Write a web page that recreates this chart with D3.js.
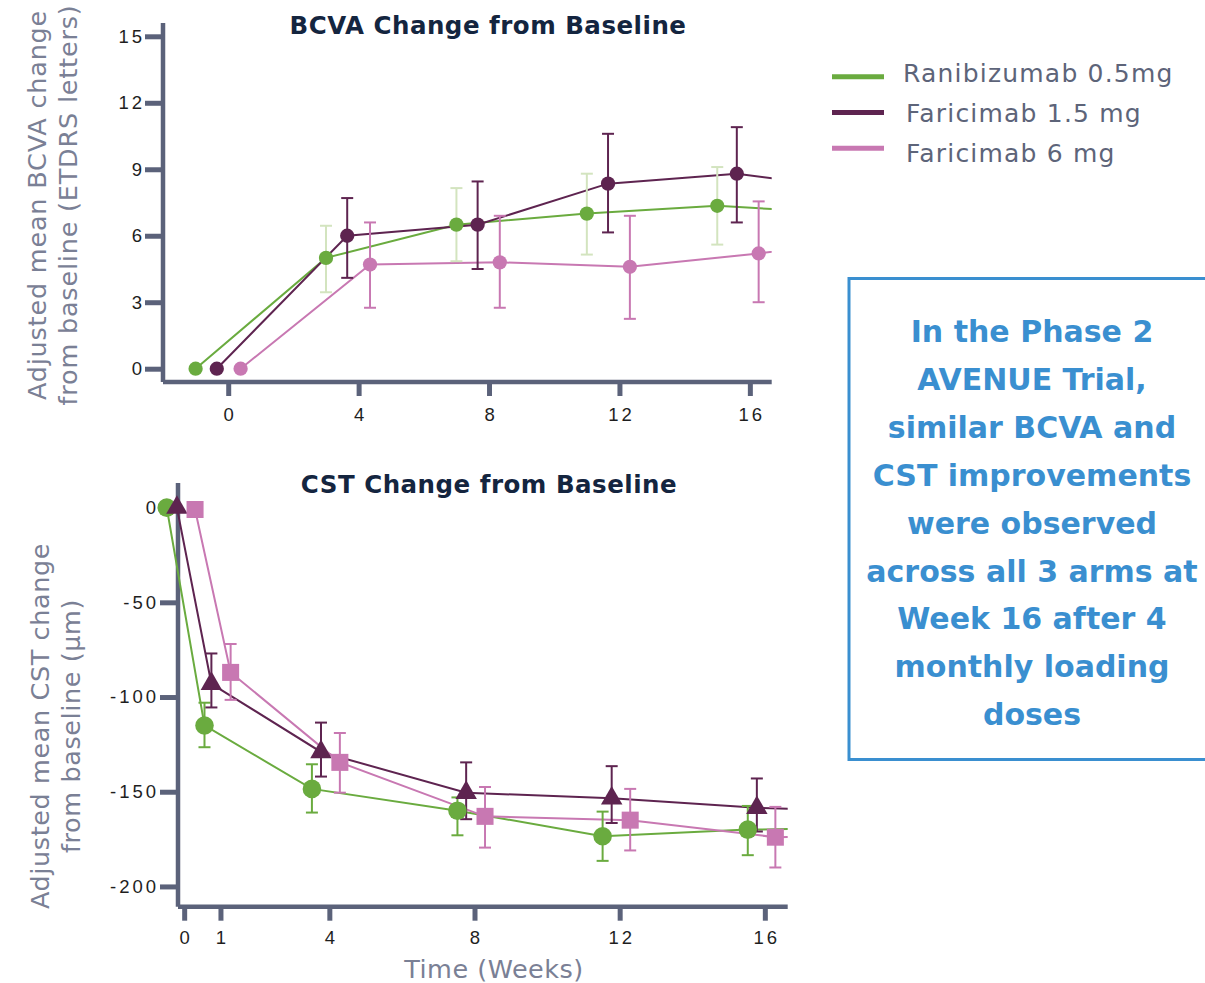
<!DOCTYPE html>
<html><head><meta charset="utf-8">
<script src="https://cdn.jsdelivr.net/npm/d3@7"></script>
<style>
html,body{margin:0;padding:0;background:#fff;}
svg{display:block;font-family:"DejaVu Sans",sans-serif;}
</style></head>
<body>
<svg id="chart" width="1205" height="983"></svg>
<script>
// ---------------- DATA ----------------
const seriesNames = ["Ranibizumab 0.5mg", "Faricimab 1.5 mg", "Faricimab 6 mg"];
const seriesColors = ["#6aab3f", "#5e2450", "#c878b2"];
const errColorsTop = ["#d3e4bf", "#5e2450", "#c878b2"];

// BCVA (top) — plotted week positions (jittered per arm), means, upper & lower error ends
const bcvaWeeksRani = [-1, 3, 7, 11, 15, 19];
const bcvaRani      = [0, 5.0, 6.5, 7.0, 7.35, 7.0];
const bcvaRaniHi    = [null, 6.45, 8.15, 8.8, 9.1, null];
const bcvaRaniLo    = [null, 3.45, 4.85, 5.15, 5.6, null];

const bcvaWeeksF15 = [-0.35, 3.65, 7.65, 11.65, 15.6, 18.7];
const bcvaF15      = [0, 6.0, 6.5, 8.35, 8.8, 8.2];
const bcvaF15Hi    = [null, 7.7, 8.45, 10.6, 10.9, null];
const bcvaF15Lo    = [null, 4.1, 4.5, 6.15, 6.6, null];

const bcvaWeeksF6 = [0.38, 4.35, 8.33, 12.32, 16.27, 19.3];
const bcvaF6      = [0, 4.7, 4.8, 4.6, 5.2, 5.8];
const bcvaF6Hi    = [null, 6.6, 6.9, 6.9, 7.55, null];
const bcvaF6Lo    = [null, 2.75, 2.75, 2.25, 3.0, null];

const bcvaTicksY = [0, 3, 6, 9, 12, 15];
const bcvaTicksX = [0, 4, 8, 12, 16];

// CST (bottom)
const cstWeeksRani = [-0.48, 0.56, 3.52, 7.53, 11.53, 15.53, 19.5];
const cstRani      = [0, -115, -148.5, -160, -173.5, -170, -169];
const cstRaniHi    = [null, -103, -135.5, -153, -160.5, -157.5, null];
const cstRaniLo    = [null, -126.5, -161, -173, -186.5, -183.5, null];

const cstWeeksF15 = [-0.2, 0.75, 3.77, 7.77, 11.78, 15.78, 19.8];
const cstF15      = [0, -93, -129, -150.5, -153.5, -158.5, -160.5];
const cstF15Hi    = [null, -77, -113.5, -134.5, -136.5, -143, null];
const cstF15Lo    = [null, -105.5, -142, -164.5, -166.5, -171, null];

const cstWeeksF6 = [0.3, 1.28, 4.29, 8.29, 12.29, 16.29, 20.3];
const cstF6      = [-1, -87, -134.5, -163, -165, -174, -173];
const cstF6Hi    = [null, -72, -119, -147.5, -148.5, -158, null];
const cstF6Lo    = [null, -101.5, -150.5, -179.5, -181, -190, null];

const cstTicksY = [0, -50, -100, -150, -200];
const cstTicksX = [0, 1, 4, 8, 12, 16];

const boxLines = ["In the Phase 2", "AVENUE Trial,", "similar BCVA and", "CST improvements",
  "were observed", "across all 3 arms at", "Week 16 after 4", "monthly loading", "doses"];

// ---------------- HELPERS ----------------
function zip(weeks, vals, hi, lo) {
  return weeks.map((w, i) => ({w, v: vals[i], hi: hi[i], lo: lo[i]}));
}
const bcvaSeries = [zip(bcvaWeeksRani, bcvaRani, bcvaRaniHi, bcvaRaniLo),
                    zip(bcvaWeeksF15, bcvaF15, bcvaF15Hi, bcvaF15Lo),
                    zip(bcvaWeeksF6, bcvaF6, bcvaF6Hi, bcvaF6Lo)];
const cstSeries = [zip(cstWeeksRani, cstRani, cstRaniHi, cstRaniLo),
                   zip(cstWeeksF15, cstF15, cstF15Hi, cstF15Lo),
                   zip(cstWeeksF6, cstF6, cstF6Hi, cstF6Lo)];

const svg = d3.select("#chart");
const AXIS = "#5b627a";
const LABEL = "#7a8095";
const TICK_LS = 3;

function drawPanel(cfg) {
  const g = svg.append("g");
  const x = d3.scaleLinear().domain(cfg.xDomain).range(cfg.xRange);
  const y = d3.scaleLinear().domain(cfg.yDomain).range(cfg.yRange);
  const yBottom = d3.max(cfg.yRange), yTop = d3.min(cfg.yRange);
  const clipId = "clip" + cfg.id;
  svg.append("clipPath").attr("id", clipId).append("rect")
    .attr("x", 0).attr("y", 0).attr("width", cfg.xRange[1]).attr("height", 983);

  // y axis
  const ya = g.append("g").attr("transform", `translate(${cfg.xRange[0]},0)`)
    .call(d3.axisLeft(y).tickValues(cfg.ticksY).tickFormat(d => String(d)).tickSize(18).tickPadding(cfg.yPad));
  ya.select(".domain").remove();
  ya.selectAll(".tick line").attr("stroke", AXIS).attr("stroke-width", 5);
  ya.selectAll(".tick text").attr("fill", "#1e1e1e").attr("font-size", 18.5)
    .attr("letter-spacing", TICK_LS);
  g.append("line").attr("x1", cfg.xRange[0]).attr("x2", cfg.xRange[0])
    .attr("y1", yTop).attr("y2", yBottom)
    .attr("stroke", AXIS).attr("stroke-width", 4.5);

  // x axis
  const xa = g.append("g").attr("transform", `translate(0,${yBottom})`)
    .call(d3.axisBottom(x).tickValues(cfg.ticksX).tickFormat(d => String(d)).tickSize(14).tickPadding(cfg.xPad));
  xa.select(".domain").remove();
  xa.selectAll(".tick line").attr("stroke", AXIS).attr("stroke-width", 5);
  xa.selectAll(".tick text").attr("fill", "#1e1e1e").attr("font-size", 18.5)
    .attr("letter-spacing", TICK_LS).attr("dx", TICK_LS / 2);
  g.append("line").attr("x1", cfg.xRange[0]).attr("x2", cfg.xRange[1])
    .attr("y1", yBottom).attr("y2", yBottom)
    .attr("stroke", AXIS).attr("stroke-width", 4.5);

  // title
  g.append("text").attr("x", cfg.titleX).attr("y", cfg.titleY).attr("text-anchor", "middle")
    .attr("font-weight", 700).attr("font-size", 24.5).attr("letter-spacing", 0.5)
    .attr("fill", "#14253f").text(cfg.title);

  // y-title
  const yt = g.append("text").attr("transform", `translate(${cfg.yTitleX},${cfg.yTitleY}) rotate(-90)`)
    .attr("text-anchor", "middle").attr("fill", LABEL).attr("font-size", 25.5)
    .attr("letter-spacing", cfg.yTitleLS);
  yt.append("tspan").attr("x", 0).attr("dy", 0).text(cfg.yTitle[0]);
  yt.append("tspan").attr("x", 0).attr("dy", 31).text(cfg.yTitle[1]);

  const line = d3.line().x(d => x(d.w)).y(d => y(d.v));
  cfg.series.forEach((s, i) => {
    g.append("path").datum(s).attr("d", line).attr("fill", "none")
      .attr("stroke", seriesColors[i]).attr("stroke-width", 2)
      .attr("clip-path", `url(#${clipId})`);
  });
  // error bars
  cfg.series.forEach((s, i) => {
    const eb = s.filter(d => d.hi != null && d.w <= cfg.xDomain[1]);
    const col = cfg.errColors[i];
    const eg = g.append("g").attr("stroke", col).attr("stroke-width", 2);
    eg.selectAll("line.v").data(eb).join("line").attr("class", "v")
      .attr("x1", d => x(d.w)).attr("x2", d => x(d.w)).attr("y1", d => y(d.hi)).attr("y2", d => y(d.lo));
    ["hi", "lo"].forEach(k => {
      eg.selectAll("line." + k).data(eb).join("line").attr("class", k)
        .attr("x1", d => x(d.w) - 6).attr("x2", d => x(d.w) + 6)
        .attr("y1", d => y(d[k])).attr("y2", d => y(d[k]));
    });
  });
  // markers
  cfg.series.forEach((s, i) => {
    const pts = s.filter(d => d.w <= cfg.xDomain[1]);
    const sym = d3.symbol().type(cfg.symbols[i]).size(cfg.symSizes[i]);
    g.append("g").selectAll("path").data(pts).join("path")
      .attr("d", sym).attr("transform", d => `translate(${x(d.w)},${y(d.v)})`)
      .attr("fill", seriesColors[i]);
  });
}

drawPanel({
  id: "top", series: bcvaSeries, errColors: errColorsTop,
  xDomain: [-2, 16.67], xRange: [163, 771.7],
  yDomain: [-0.6, 15.6], yRange: [382, 23],
  ticksX: bcvaTicksX, ticksY: bcvaTicksY, yPad: 0, xPad: 12,
  title: "BCVA Change from Baseline", titleX: 488, titleY: 34,
  yTitle: ["Adjusted mean BCVA change", "from baseline (ETDRS letters)"], yTitleX: 46, yTitleY: 205, yTitleLS: 0.8,
  symbols: [d3.symbolCircle, d3.symbolCircle, d3.symbolCircle], symSizes: [160, 160, 160]
});

drawPanel({
  id: "bot", series: cstSeries, errColors: seriesColors,
  xDomain: [-0.17, 16.63], xRange: [178, 787.7],
  yDomain: [13, -210.7], yRange: [483, 906.7],
  ticksX: cstTicksX, ticksY: cstTicksY, yPad: 1, xPad: 10,
  title: "CST Change from Baseline", titleX: 489, titleY: 493,
  yTitle: ["Adjusted mean CST change", "from baseline (µm)"], yTitleX: 49, yTitleY: 726, yTitleLS: 0.6,
  symbols: [d3.symbolCircle, d3.symbolTriangle, d3.symbolSquare], symSizes: [270, 200, 290]
});

// x title
svg.append("text").attr("x", 494).attr("y", 978).attr("text-anchor", "middle")
  .attr("fill", LABEL).attr("font-size", 25.5).attr("letter-spacing", 0.5).text("Time (Weeks)");

// legend
const lg = svg.append("g");
seriesNames.forEach((n, i) => {
  const yy = 76.7 + i * 35.8;
  lg.append("line").attr("x1", 832).attr("x2", 884).attr("y1", yy).attr("y2", yy)
    .attr("stroke", seriesColors[i]).attr("stroke-width", 5);
  lg.append("text").attr("x", i === 0 ? 903 : 906).attr("y", 82 + i * 39.8).attr("fill", "#5d6479")
    .attr("font-size", 25).attr("letter-spacing", 1.2).text(n);
});

// box
svg.append("rect").attr("x", 849).attr("y", 278.5).attr("width", 380).attr("height", 481)
  .attr("fill", "none").attr("stroke", "#3a8fd0").attr("stroke-width", 3);
const bt = svg.append("text").attr("text-anchor", "middle").attr("fill", "#3a8fd0")
  .attr("font-weight", 700).attr("font-size", 30);
boxLines.forEach((l, i) => {
  bt.append("tspan").attr("x", 1032).attr("y", 342 + i * 47.9).text(l);
});
</script>
</body></html>
